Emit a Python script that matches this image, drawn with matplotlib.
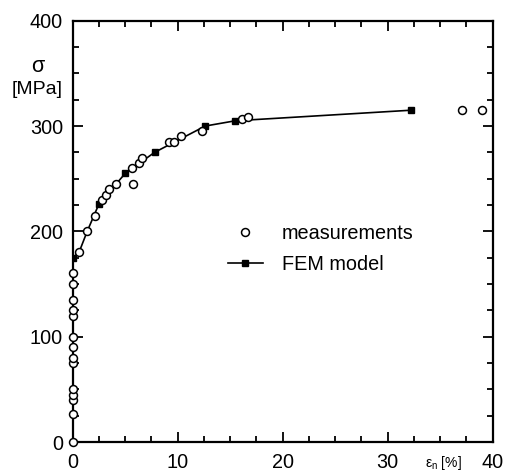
import matplotlib
matplotlib.use("Agg")
import matplotlib.pyplot as plt
from matplotlib.ticker import MultipleLocator

plt.rcParams['font.family'] = ['Liberation Sans', 'DejaVu Sans']

# measurements (strain %, stress MPa)
meas_x = [0, 0, 0, 0, 0, 0, 0, 0, 0, 0, 0, 0, 0, 0,
          0.6, 1.38, 2.1, 2.75, 3.2, 3.47, 4.17, 5.69, 5.75, 6.31, 6.6,
          9.16, 9.63, 10.33, 12.3, 16.08, 16.65, 37.1, 39.0]
meas_y = [0, 27, 40, 45, 50, 75, 80, 90, 100, 120, 125, 135, 150, 160,
          180, 200, 215, 230, 234.6, 240, 245, 260, 245, 265, 270,
          285, 285, 290.5, 295, 307, 309, 315, 315]

# FEM model
fem_x = [0, 0, 0.6, 1.38, 2.5, 5.0, 7.8, 12.63, 15.5, 32.2]
fem_y = [0, 175, 180, 200, 226, 255, 275, 300, 305, 315]
fem_marked = [1, 4, 5, 6, 7, 8, 9]

fig = plt.figure(figsize=(5.06, 4.72), dpi=100)
ax = fig.add_axes([72.7/506, 1-442/472, 420/506, 421.3/472])

ax.plot(fem_x, fem_y, color='black', lw=1.2, marker='s', ms=5,
        markevery=fem_marked, mfc='black', mec='black', label='FEM model', zorder=3)
ax.plot(meas_x, meas_y, ls='none', marker='o', ms=5.7, mfc='white',
        mec='black', mew=1.1, label='measurements', zorder=4, clip_on=False)

ax.set_xlim(0, 40)
ax.set_ylim(0, 400)
ax.xaxis.set_major_locator(MultipleLocator(10))
ax.xaxis.set_minor_locator(MultipleLocator(2.5))
ax.yaxis.set_major_locator(MultipleLocator(100))
ax.yaxis.set_minor_locator(MultipleLocator(25))
ax.tick_params(which='both', direction='in', top=True, right=True,
               labelsize=14.3, width=1.3)
ax.tick_params(which='major', length=7.5)
ax.tick_params(axis='y', which='major', pad=7)
ax.tick_params(axis='x', which='major', pad=8)
ax.tick_params(which='minor', length=4.3)
for s in ax.spines.values():
    s.set_linewidth(1.6)

h, l = ax.get_legend_handles_labels()
ax.legend(h[::-1], l[::-1], loc='center left', bbox_to_anchor=(0.370, 0.459),
          frameon=False, fontsize=14.3, borderpad=0, borderaxespad=0,
          handlelength=1.75, handletextpad=0.95, labelspacing=0.6)

fig.text(38/506, 1-66/472, 'σ', fontsize=15.5, ha='center', va='center')
fig.text(37/506, 1-89/472, '[MPa]', fontsize=14, ha='center', va='center')
fig.text(443/506, 1-463/472, r'ε$_\mathregular{n}$ [%]', fontsize=10,
         ha='center', va='center')

fig.savefig('out.png', dpi=100)
